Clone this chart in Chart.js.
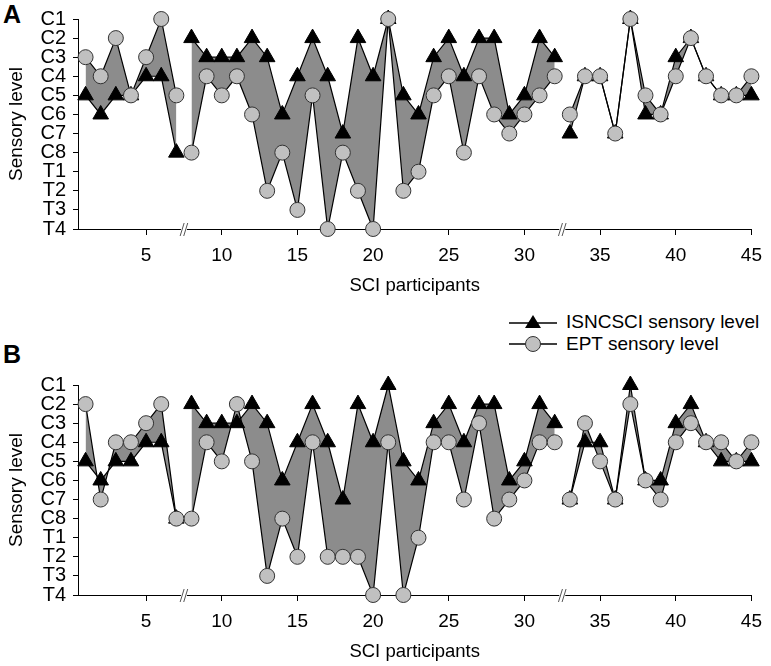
<!DOCTYPE html>
<html>
<head>
<meta charset="utf-8">
<script src="https://cdn.jsdelivr.net/npm/chart.js@4.4.0/dist/chart.umd.min.js"></script>
<style>
  body { margin: 0; background: #fff; width: 771px; height: 666px; position: relative; overflow: hidden;
         font-family: 'Liberation Sans', Arial, sans-serif; color: #000; }
  canvas { position: absolute; left: 0; }
  #cA { top: 0; }
  #cB { top: 366px; }
  .panel { position: absolute; left: 3px; font-weight: bold; font-size: 25px; line-height: 25px; }
  #legend { position: absolute; left: 509px; top: 311px; font-size: 19px; }
  #legend div { height: 22px; display: flex; align-items: center; }
  #legend svg { margin-right: 9px; }
</style>
</head>
<body>
<div class="panel" style="top:2px">A</div>
<div class="panel" style="top:342px">B</div>
<canvas id="cA" width="771" height="300"></canvas>
<canvas id="cB" width="771" height="300"></canvas>
<div id="legend">
  <div><svg width="48" height="20"><line x1="0" y1="11" x2="48" y2="11" stroke="#000" stroke-width="1.3"/><polygon points="24,3 32,16 16,16" fill="#000"/></svg>ISNCSCI sensory level</div>
  <div><svg width="48" height="20"><line x1="0" y1="10" x2="48" y2="10" stroke="#000" stroke-width="1.3"/><circle cx="24" cy="10" r="7.5" fill="#c0c0c0" stroke="#333" stroke-width="1"/></svg>EPT sensory level</div>
</div>
<script>
const levels = ['C1','C2','C3','C4','C5','C6','C7','C8','T1','T2','T3','T4'];
const participants = [1,2,3,4,5,6,7,8,9,10,11,12,13,14,15,16,17,18,19,20,21,22,23,24,25,
  26,27,28,29,30,31,32,33,34,35,36,37,38,39,40,41,42,43,44,45];
const xTicks = [5,10,15,20,25,30,35,40,45];
const breaksAfter = [7, 32];

// panel A
const isncsciA = ['C5','C6','C5','C5','C4','C4','C8',
  'C2','C3','C3','C3','C2','C3','C6','C4','C2','C4','C7','C2','C4','C1','C5','C6','C3','C2','C4','C2','C2','C6','C5','C2','C3',
  'C7','C4','C4','C7','C1','C6','C6','C3','C2','C4','C5','C5','C5'];
const eptA = ['C3','C4','C2','C5','C3','C1','C5',
  'C8','C4','C5','C4','C6','T2','C8','T3','C5','T4','C8','T2','T4','C1','T2','T1','C5','C4','C8','C4','C6','C7','C6','C5','C4',
  'C6','C4','C4','C7','C1','C5','C6','C4','C2','C4','C5','C5','C4'];

// panel B
const isncsciB = ['C5','C6','C5','C5','C4','C4','C8',
  'C2','C3','C3','C3','C2','C3','C6','C4','C2','C4','C7','C2','C4','C1','C5','C6','C3','C2','C4','C2','C2','C6','C5','C2','C3',
  'C7','C4','C4','C7','C1','C6','C6','C3','C2','C4','C5','C5','C5'];
const eptB = ['C2','C7','C4','C4','C3','C2','C8',
  'C8','C4','C5','C2','C5','T3','C8','T2','C4','T2','T2','T2','T4','C4','T4','T1','C4','C4','C7','C3','C8','C7','C6','C4','C4',
  'C7','C3','C5','C7','C2','C6','C7','C4','C3','C4','C4','C5','C4'];

Chart.defaults.font.family = "'Liberation Sans', Arial, sans-serif";
Chart.defaults.color = '#000';

// split the series into the pieces between axis breaks
function toSegments(vals) {
  const segs = [[]];
  participants.forEach((p, i) => {
    segs[segs.length - 1].push({ x: p, y: levels.indexOf(vals[i]) + 1 });
    if (breaksAfter.includes(p)) segs.push([]);
  });
  return segs;
}

const axisBreaks = {
  id: 'axisBreaks',
  afterDraw(chart) {
    const { ctx, scales: { x }, chartArea } = chart;
    const y = chartArea.bottom;
    breaksAfter.forEach(b => {
      const px = x.getPixelForValue(b + 0.5);
      ctx.save();
      ctx.fillStyle = '#fff';
      ctx.fillRect(px - 3, y - 2, 6, 4);
      ctx.strokeStyle = '#555';
      ctx.lineWidth = 1;
      [-1.8, 1.8].forEach(d => {
        ctx.beginPath();
        ctx.moveTo(px + d - 2, y + 7);
        ctx.lineTo(px + d + 2, y - 6);
        ctx.stroke();
      });
      ctx.restore();
    });
  }
};

function makeChart(id, ept, isn, topPad) {
  const eptSegs = toSegments(ept);
  const isnSegs = toSegments(isn);
  const datasets = [];
  eptSegs.forEach((seg, k) => {
    datasets.push({
      label: 'EPT sensory level',
      data: seg,
      borderColor: '#000',
      borderWidth: 1.2,
      pointStyle: 'circle',
      pointRadius: 7.5,
      pointBackgroundColor: '#c0c0c0',
      pointBorderColor: '#333',
      pointBorderWidth: 1,
      fill: false,
      clip: false,
      order: 0
    });
    datasets.push({
      label: 'ISNCSCI sensory level',
      data: isnSegs[k],
      borderColor: '#000',
      borderWidth: 1.2,
      pointStyle: 'triangle',
      pointRadius: 9,
      pointBackgroundColor: '#000',
      pointBorderColor: '#000',
      pointBorderWidth: 1,
      fill: '-1',
      backgroundColor: '#8c8c8c',
      clip: false,
      order: 1
    });
  });

  new Chart(document.getElementById(id), {
    type: 'line',
    data: { datasets },
    options: {
      responsive: false,
      animation: false,
      layout: { padding: { top: topPad, right: 10, left: 0, bottom: 0 } },
      plugins: {
        legend: { display: false },
        tooltip: { enabled: false },
        filler: { drawTime: 'beforeDatasetsDraw' }
      },
      scales: {
        x: {
          type: 'linear',
          min: 0.5,
          max: 45,
          afterBuildTicks: s => { s.ticks = xTicks.map(v => ({ value: v })); },
          afterFit: s => { s.height = 71; },
          ticks: { font: { size: 19 }, padding: 9, maxRotation: 0, autoSkip: false },
          grid: { drawOnChartArea: false, drawTicks: true, tickLength: 6, color: '#000' },
          border: { display: true, color: '#000', width: 1 },
          title: { display: true, text: 'SCI participants', font: { size: 18.5 }, padding: { top: 0, bottom: 3 } }
        },
        y: {
          type: 'linear',
          min: 1,
          max: 12,
          reverse: true,
          afterBuildTicks: s => { s.ticks = levels.map((l, i) => ({ value: i + 1 })); },
          afterFit: s => { s.width = 78; },
          ticks: { font: { size: 20 }, padding: 7, autoSkip: false, callback: v => levels[v - 1] },
          grid: { drawOnChartArea: false, drawTicks: true, tickLength: 5, color: '#000' },
          border: { display: true, color: '#000', width: 1 },
          title: { display: true, text: 'Sensory level', font: { size: 19 }, padding: { top: 5, bottom: 0 } }
        }
      }
    },
    plugins: [axisBreaks]
  });
}

makeChart('cA', eptA, isncsciA, 12);
makeChart('cB', eptB, isncsciB, 13);
</script>
</body>
</html>
